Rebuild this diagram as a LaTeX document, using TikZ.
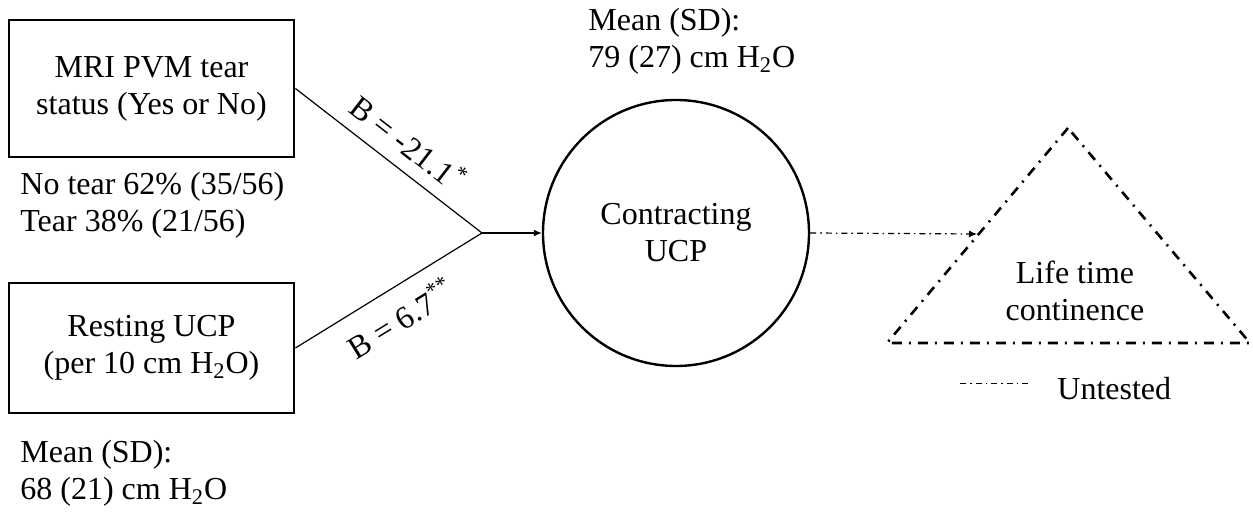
\documentclass[tikz,border=0pt]{standalone}
\usepackage{fontspec}
\setmainfont{Liberation Serif}
\usetikzlibrary{arrows.meta, positioning}

\begin{document}
\begin{tikzpicture}[x=0.5pt, y=-0.5pt,
  every node/.style={font=\fontsize{16}{18.5}\selectfont},
  varbox/.style={draw, line width=1.4pt, minimum width=142.5pt, align=center},
  notes/.style={anchor=west, align=left, inner sep=0pt},
  effect/.style={line width=0.6pt},
  untested/.style={line width=0.6pt, dash pattern=on 3pt off 2pt on 0.8pt off 2pt},
  outcome/.style={line width=1.3pt, dash pattern=on 5pt off 3.5pt on 1pt off 3.5pt},
  tipar/.style={-{Latex[length=4pt,width=3.5pt]}}
]
\useasboundingbox (0,0) rectangle (1253,512);
\node[varbox, minimum height=68.5pt] (tear) at (151.5,88.5) {MRI PVM tear\\status (Yes or No)};
\node[varbox, minimum height=65pt] (rest) at (151.5,348) {Resting UCP\\(per 10 cm H\textsubscript{2}O)};
\node[notes] (tearpct) at (20,205) {No tear 62\% (35/56)\\Tear 38\% (21/56)};
\node[notes] (restsd) at (20,473) {Mean (SD):\\68 (21) cm H\textsubscript{2}O};
\node[draw, circle, line width=1.2pt, minimum size=133pt, align=center] (ucp) at (676,233) {Contracting\\UCP};
\node[notes] (ucpsd) at (588,41) {Mean (SD):\\79 (27) cm H\textsubscript{2}O};
\coordinate (jn) at (482,233);
\draw[effect] (tear.east) -- (jn) node[sloped, above=3pt, pos=0.52] (btear) {B = -21.1\textsuperscript{*}};
\draw[effect] (rest.east) -- (jn) node[sloped, below=4pt, pos=0.48] (brest) {B = 6.7\textsuperscript{**}};
\draw[effect, tipar] (jn) -- (ucp.west);
% life time continence (untested)
\coordinate (tp) at (1068,128);
\coordinate (tl) at (887,343);
\coordinate (tr) at (1250,343);
\coordinate (hit) at (977,234);
\draw[outcome] (tp) -- (tl) -- (tr) -- cycle;
\node[align=center] (life) at (1075,291) {Life time\\continence};
\draw[untested, tipar] (ucp.east) -- (hit);
\coordinate (lga) at (960,383);
\coordinate (lgb) at (1030,383);
\draw[untested, line width=0.4pt] (lga) -- (lgb);
\node[notes] (lgtext) at (1057,389) {Untested};
\end{tikzpicture}
\end{document}
